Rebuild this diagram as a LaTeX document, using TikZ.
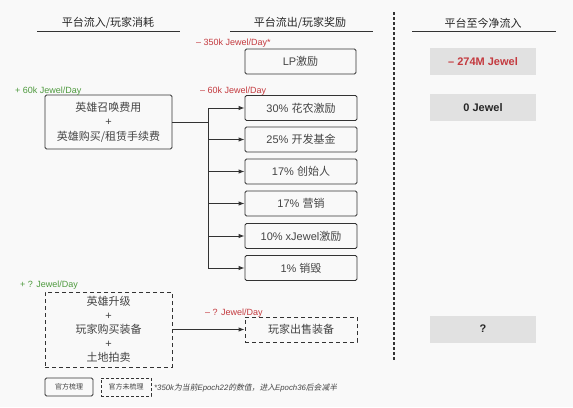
\documentclass[tikz,border=0pt]{standalone}
\usepackage{fontspec}
\setmainfont{Noto Sans CJK SC}
\newfontfamily\notefont[FakeSlant=0.2]{Noto Sans CJK SC}
\newfontfamily\lat{Liberation Sans}
\usetikzlibrary{arrows.meta}
\definecolor{bg}{HTML}{F9F9F9}
\definecolor{ink}{HTML}{333333}
\definecolor{txt}{HTML}{444444}
\definecolor{redlbl}{HTML}{C43A3F}
\definecolor{greenlbl}{HTML}{4E9A3E}
\definecolor{graybox}{HTML}{E1E1E1}
\tikzset{
  box/.style={draw=ink, line width=0.9pt, rounded corners=1.5pt, inner sep=0pt,
    text=txt, font=\fontsize{11}{14.5}\selectfont, align=center},
  dbox/.style={box, dash pattern=on 4pt off 3pt, rounded corners=0pt},
  rbox/.style={box, minimum width=112pt, minimum height=25pt},
  gbox/.style={fill=graybox, inner sep=0pt, minimum width=106pt, minimum height=27pt,
    font=\lat\bfseries\fontsize{11}{13}\selectfont},
  hdr/.style={inner sep=0pt, text=black!85, font=\fontsize{11}{13}\selectfont},
  uline/.style={draw=ink, line width=0.9pt},
  lbl/.style={inner sep=0pt, anchor=west, font=\lat\fontsize{9}{10}\selectfont},
  conn/.style={draw=ink, line width=0.9pt},
  arr/.style={conn, -{Latex[length=6pt,width=4.5pt]}},
}
\begin{document}
\begin{tikzpicture}[x=1pt,y=-1pt]
\useasboundingbox (0,0) rectangle (573,407);
\fill[bg] (0,0) rectangle (573,407);

% headers
\node[hdr] (h1) at (108,23) {平台流入/玩家消耗};
\node[hdr] (h2) at (300,23) {平台流出/玩家奖励};
\node[hdr] (h3) at (483,23) {平台至今净流入};
\coordinate (u1a) at (37,31); \coordinate (u1b) at (180,31);
\coordinate (u2a) at (230,31); \coordinate (u2b) at (373,31);
\coordinate (u3a) at (412,31); \coordinate (u3b) at (556,31);
\draw[uline] (u1a) -- (u1b);
\draw[uline] (u2a) -- (u2b);
\draw[uline] (u3a) -- (u3b);

% vertical dashed divider
\coordinate (dv1) at (394,12); \coordinate (dv2) at (394,360);
\draw[ink, line width=1.2pt, dash pattern=on 3pt off 2pt] (dv1) -- (dv2);

% LP box
\node[rbox, minimum width=111pt] (lp) at (300.5,61.5) {{\lat LP}激励};
\node[lbl, text=redlbl] (lplbl) at (196,43) {– 350k Jewel/Day*};

% left source box
\node[box, minimum width=127pt, minimum height=54pt] (src) at (108.5,122)
  {英雄召唤费用\\{\lat +}\\英雄购买/租赁手续费};
\node[lbl, text=greenlbl] (srclbl) at (15,91) {+ 60k Jewel/Day};
\node[lbl, text=redlbl] (outlbl) at (200,91) {– 60k Jewel/Day};

% right distribution boxes
\node[rbox] (r1) at (301,108) {{\lat 30\% }花农激励};
\node[rbox] (r2) at (301,139.5) {{\lat 25\% }开发基金};
\node[rbox] (r3) at (301,171.5) {{\lat 17\% }创始人};
\node[rbox] (r4) at (301,203.5) {{\lat 17\% }营销};
\node[rbox] (r5) at (301,236) {{\lat 10\% xJewel}激励};
\node[rbox] (r6) at (301,268) {{\lat 1\% }销毁};

\coordinate (j) at (208,122);
\draw[conn] (src.east) -- (j);
\draw[conn] (j |- r1.west) -- (j |- r6.west);
\foreach \r in {r1,r2,r3,r4,r5,r6}
  \draw[arr] (j |- \r.west) -- (\r.west);

% dashed source box
\node[dbox, minimum width=127pt, minimum height=75pt, font=\fontsize{11}{14}\selectfont] (src2) at (108.5,329.5)
  {英雄升级\\{\lat +}\\玩家购买装备\\{\lat +}\\土地拍卖};
\node[lbl, text=greenlbl] (src2lbl) at (20,285) {+ ? Jewel/Day};
\node[dbox, minimum width=112pt, minimum height=25pt] (sell) at (301,329.5) {玩家出售装备};
\node[lbl, text=redlbl] (selllbl) at (205,313) {– ? Jewel/Day};
\draw[arr] (src2.east) -- (sell.west);

% gray result boxes
\node[gbox, text=redlbl] (g1) at (483,61.5) {– 274M Jewel};
\node[gbox, text=black!85] (g2) at (483,107.5) {0 Jewel};
\node[gbox, text=black!85] (g3) at (483,329) {?};

% legend
\node[box, minimum width=48pt, minimum height=18pt, font=\fontsize{7}{8}\selectfont] (leg1) at (69,387) {官方梳理};
\node[dbox, dash pattern=on 3pt off 2pt, minimum width=50pt, minimum height=18pt, font=\fontsize{7}{8}\selectfont] (leg2) at (126,387) {官方未梳理};
\node[inner sep=0pt, anchor=west, text=txt, font=\notefont\fontsize{7.8}{9}\selectfont] (note) at (154,388)
  {{\lat\itshape *350k}为当前{\lat\itshape Epoch22}的数值，进入{\lat\itshape Epoch36}后会减半};
\end{tikzpicture}
\end{document}
